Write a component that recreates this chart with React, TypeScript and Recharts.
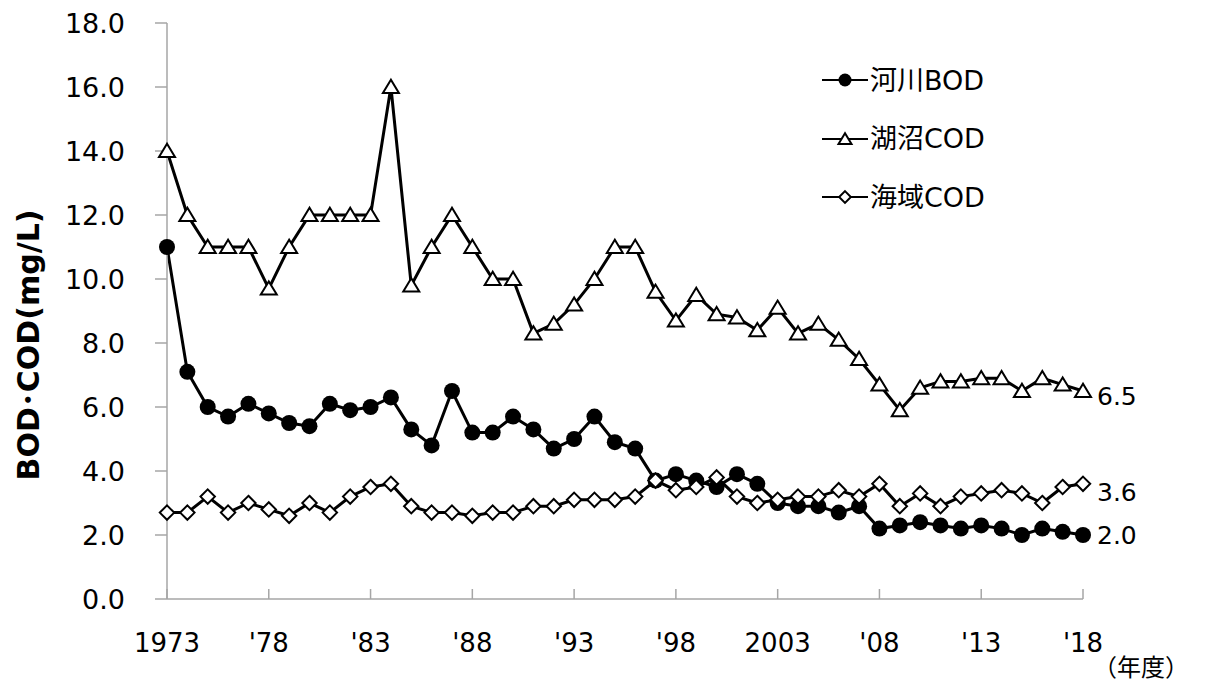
import React from "react";
import { LineChart, Line, XAxis, YAxis, LabelList, Label } from "recharts";

// 年度 (fiscal years)
const years = [
  1973, 1974, 1975, 1976, 1977, 1978, 1979, 1980, 1981, 1982,
  1983, 1984, 1985, 1986, 1987, 1988, 1989, 1990, 1991, 1992,
  1993, 1994, 1995, 1996, 1997, 1998, 1999, 2000, 2001, 2002,
  2003, 2004, 2005, 2006, 2007, 2008, 2009, 2010, 2011, 2012,
  2013, 2014, 2015, 2016, 2017, 2018,
];

const riverBod = [
  11.0, 7.1, 6.0, 5.7, 6.1, 5.8, 5.5, 5.4, 6.1, 5.9,
  6.0, 6.3, 5.3, 4.8, 6.5, 5.2, 5.2, 5.7, 5.3, 4.7,
  5.0, 5.7, 4.9, 4.7, 3.7, 3.9, 3.7, 3.5, 3.9, 3.6,
  3.0, 2.9, 2.9, 2.7, 2.9, 2.2, 2.3, 2.4, 2.3, 2.2,
  2.3, 2.2, 2.0, 2.2, 2.1, 2.0,
];

const lakeCod = [
  14.0, 12.0, 11.0, 11.0, 11.0, 9.7, 11.0, 12.0, 12.0, 12.0,
  12.0, 16.0, 9.8, 11.0, 12.0, 11.0, 10.0, 10.0, 8.3, 8.6,
  9.2, 10.0, 11.0, 11.0, 9.6, 8.7, 9.5, 8.9, 8.8, 8.4,
  9.1, 8.3, 8.6, 8.1, 7.5, 6.7, 5.9, 6.6, 6.8, 6.8,
  6.9, 6.9, 6.5, 6.9, 6.7, 6.5,
];

const seaCod = [
  2.7, 2.7, 3.2, 2.7, 3.0, 2.8, 2.6, 3.0, 2.7, 3.2,
  3.5, 3.6, 2.9, 2.7, 2.7, 2.6, 2.7, 2.7, 2.9, 2.9,
  3.1, 3.1, 3.1, 3.2, 3.7, 3.4, 3.5, 3.8, 3.2, 3.0,
  3.1, 3.2, 3.2, 3.4, 3.2, 3.6, 2.9, 3.3, 2.9, 3.2,
  3.3, 3.4, 3.3, 3.0, 3.5, 3.6,
];

const seriesKeys = ["river", "lake", "sea"];
const seriesNames = ["河川BOD", "湖沼COD", "海域COD"];

const xTicks = [1973, 1978, 1983, 1988, 1993, 1998, 2003, 2008, 2013, 2018];
const xTickLabels = ["1973", "'78", "'83", "'88", "'93", "'98", "2003", "'08", "'13", "'18"];
const yTicks = [0, 2, 4, 6, 8, 10, 12, 14, 16, 18];

const data = years.map((year, i) => ({
  year,
  river: riverBod[i],
  lake: lakeCod[i],
  sea: seaCod[i],
}));

const gray = "#a6a6a6";
const font = "'DejaVu Sans', 'Noto Sans CJK JP', sans-serif";

const renderShape = (kind: string, cx: number, cy: number, s: number, key?: string) => {
  if (kind === "river") return <circle key={key} cx={cx} cy={cy} r={s} fill="#000" />;
  if (kind === "lake")
    return (
      <polygon
        key={key}
        points={`${cx},${cy - s * 0.9} ${cx - s},${cy + s * 0.75} ${cx + s},${cy + s * 0.75}`}
        fill="#fff"
        stroke="#000"
        strokeWidth={2}
      />
    );
  return (
    <polygon
      key={key}
      points={`${cx},${cy - s * 0.9} ${cx + s * 0.9},${cy} ${cx},${cy + s * 0.9} ${cx - s * 0.9},${cy}`}
      fill="#fff"
      stroke="#000"
      strokeWidth={2}
    />
  );
};

const dotFor = (kind: string) => (p: any) => renderShape(kind, p.cx, p.cy, 8, `${kind}-${p.index}`);

const endLabel = (dy: number) => (p: any) => {
  if (p.index !== years.length - 1) return null;
  return (
    <text x={p.x + 14} y={p.y + dy} dominantBaseline="central" fontSize={25} fontFamily={font} fill="#000">
      {Number(p.value).toFixed(1)}
    </text>
  );
};

function XTick({ x, y, payload }: any) {
  const i = xTicks.indexOf(payload.value);
  return (
    <g>
      <line x1={x} x2={x} y1={y} y2={y - 10} stroke={gray} strokeWidth={1.5} />
      <text x={x} y={y + 44} textAnchor="middle" dominantBaseline="central" fontSize={26} fontFamily={font} fill="#000">
        {xTickLabels[i]}
      </text>
    </g>
  );
}

function LegendBox() {
  return (
    <div style={{ position: "absolute", left: 822, top: 51 }}>
      {seriesKeys.map((k, i) => (
        <div key={k} style={{ display: "flex", alignItems: "center", height: 58.5 }}>
          <svg width={46} height={30}>
            <line x1={0} x2={46} y1={15} y2={15} stroke="#000" strokeWidth={2} />
            {renderShape(k, 23, 15, 6.5)}
          </svg>
          <span style={{ marginLeft: 2, fontSize: 27, fontFamily: font, color: "#000", lineHeight: 1 }}>
            {seriesNames[i]}
          </span>
        </div>
      ))}
    </div>
  );
}

export default function App() {
  return (
    <div style={{ position: "absolute", left: 0, top: 0, width: 1231, height: 691, background: "#fff" }}>
      <LineChart width={1231} height={691} data={data} margin={{ top: 23, right: 148, left: 0, bottom: 32 }}>
        <XAxis
          dataKey="year"
          type="number"
          domain={[1973, 2018]}
          ticks={xTicks}
          interval={0}
          height={60}
          tickSize={0}
          tickMargin={0}
          tickLine={false}
          axisLine={{ stroke: gray, strokeWidth: 1.5 }}
          tick={<XTick />}
        >
          <Label
            content={() => (
              <text x={1141} y={668} textAnchor="middle" dominantBaseline="central" fontSize={24} fontFamily={font} fill="#000">
                （年度）
              </text>
            )}
          />
        </XAxis>
        <YAxis
          type="number"
          domain={[0, 18]}
          ticks={yTicks}
          interval={0}
          width={167}
          tickSize={12}
          tickMargin={30}
          tickLine={{ stroke: gray, strokeWidth: 1.5 }}
          axisLine={{ stroke: gray, strokeWidth: 1.5 }}
          tick={{ fontSize: 27, fontFamily: font, fill: "#000" }}
          tickFormatter={(v: number) => v.toFixed(1)}
        >
          <Label
            content={() => (
              <text
                x={28}
                y={345}
                transform="rotate(-90, 28, 345)"
                textAnchor="middle"
                dominantBaseline="central"
                fontSize={30}
                fontWeight="bold"
                fontFamily={font}
                fill="#000"
              >
                BOD･COD(mg/L)
              </text>
            )}
          />
        </YAxis>
        {seriesKeys.map((k, i) => (
          <Line
            key={k}
            dataKey={k}
            name={seriesNames[i]}
            stroke="#000"
            strokeWidth={3}
            dot={dotFor(k)}
            activeDot={false}
            isAnimationActive={false}
          >
            <LabelList dataKey={k} content={endLabel([0, 5, 9][i])} />
          </Line>
        ))}
      </LineChart>
      <LegendBox />
    </div>
  );
}
